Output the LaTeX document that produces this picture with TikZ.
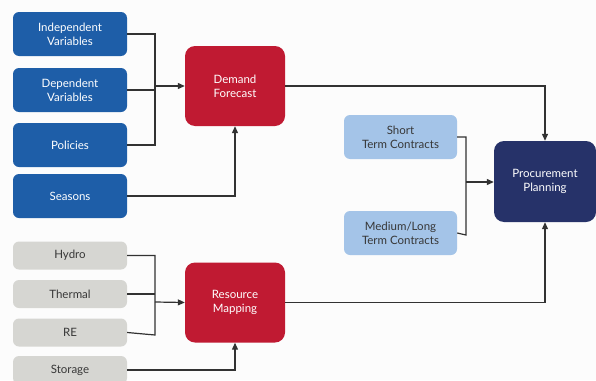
\documentclass[tikz,border=0pt]{standalone}
\usepackage{fontspec}
\setmainfont{Lato}
\usetikzlibrary{arrows.meta}
\definecolor{bblue}{RGB}{30,94,168}
\definecolor{rred}{RGB}{192,26,50}
\definecolor{navy}{RGB}{38,50,105}
\definecolor{lblue}{RGB}{164,196,232}
\definecolor{lgray}{RGB}{214,214,210}
\definecolor{tgray}{RGB}{55,55,55}
\definecolor{lcol}{RGB}{50,50,50}
\definecolor{bg}{RGB}{252,252,252}
\tikzset{
  box/.style={rectangle, rounded corners=6pt, minimum width=114pt, minimum height=44pt, align=center, font=\fontsize{11.5}{14}\selectfont, inner sep=0pt},
  inbox/.style={box, fill=bblue, text=white},
  graybox/.style={box, fill=lgray, text=tgray, minimum height=28pt},
  contract/.style={box, fill=lblue, text=tgray, minimum width=113pt},
  bigbox/.style={rectangle, rounded corners=10pt, minimum width=100pt, minimum height=80pt, align=center, font=\fontsize{11.5}{14}\selectfont, text=white, inner sep=0pt},
  conn/.style={draw=lcol, line width=1.2pt},
  arr/.style={conn, -{Triangle[length=7pt,width=6pt]}}
}
\begin{document}
\begin{tikzpicture}[x=1pt,y=-1pt]
\fill[bg] (0,0) rectangle (596,380);
\useasboundingbox (0,0) rectangle (596,380);
% blue inputs
\node[inbox] (iv) at (70,34) {Independent\\Variables};
\node[inbox] (dv) at (70,90) {Dependent\\Variables};
\node[inbox] (po) at (70,145) {Policies};
\node[inbox] (se) at (70,196) {Seasons};
% gray inputs
\node[graybox] (hy) at (70,255.5) {Hydro};
\node[graybox] (th) at (70,294) {Thermal};
\node[graybox] (re) at (70,332.5) {RE};
\node[graybox] (st) at (70,370) {Storage};
% central boxes
\node[bigbox, fill=rred] (df) at (235,86) {Demand\\Forecast};
\node[bigbox, fill=rred] (rm) at (235,302.5) {Resource\\Mapping};
% contracts
\node[contract] (sc) at (400.5,137) {Short\\Term Contracts};
\node[contract] (ml) at (400.5,233) {Medium/Long\\Term Contracts};
% procurement
\node[bigbox, fill=navy, minimum width=102pt, minimum height=81pt] (pp) at (545,181.5) {Procurement\\Planning};
% bus coordinates
\coordinate (b1) at (155,86);
\coordinate (b2) at (155,302);
\coordinate (b3) at (466,182);
% demand inputs
\draw[conn] (iv.east) -| (155,145) -- (po.east);
\draw[conn] (dv.east) -- (dv.east -| b1);
\draw[arr] (b1) -- (df.west);
\draw[arr] (se.east) -| (df.south);
% resource inputs
\draw[conn] (hy.east) -| (155,335) -- (re.east);
\draw[conn] (th.east) -- (th.east -| b2);
\draw[arr] (b2) -- (rm.west);
\draw[arr] (st.east) -| (rm.south);
% contracts
\draw[conn] (sc.east) -| (466,235) -- (ml.east);
\draw[arr] (b3) -- (pp.west |- b3);
% to procurement
\draw[arr] (df.east) -| (pp.north);
\draw[arr] (rm.east) -| (pp.south);
\end{tikzpicture}
\end{document}
